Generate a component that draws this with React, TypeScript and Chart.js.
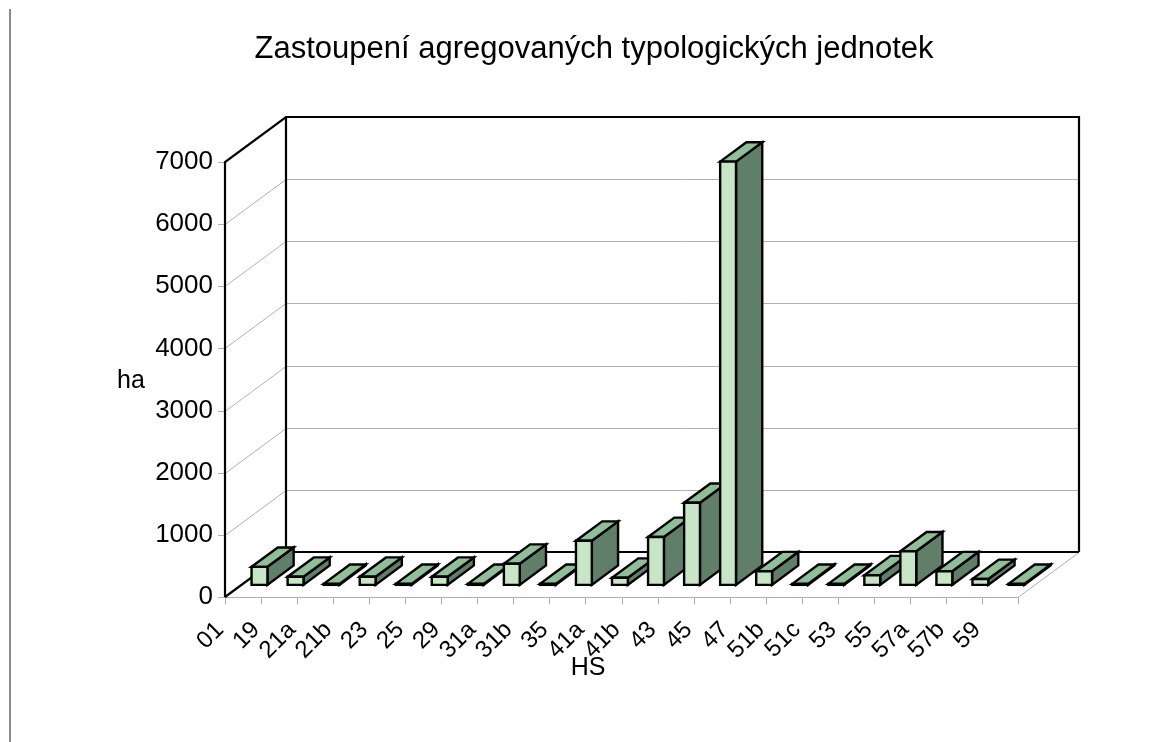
import { useEffect, useRef } from "react";
import { Chart, registerables } from "chart.js";

Chart.register(...registerables);

const chartTitle = "Zastoupení agregovaných typologických jednotek";
const xAxisTitle = "HS";
const yAxisTitle = "ha";
const categories = ["01", "19", "21a", "21b", "23", "25", "29", "31a", "31b", "35", "41a", "41b", "43", "45", "47", "51b", "51c", "53", "55", "57a", "57b", "59"];
const areaHa = [290, 130, 15, 130, 15, 130, 15, 340, 15, 710, 115, 770, 1320, 6810, 220, 10, 10, 155, 540, 220, 95, 15];
const yMin = 0;
const yMax = 7000;
const yStep = 1000;

const FONT = "'Liberation Sans', Arial, Helvetica, sans-serif";
const DX = 61;
const DY = -45;
const BAR_FRONT = 0.27;
const BAR_DEPTH = 0.43;
const FRONT_COLOR = "#c6e6c6";
const TOP_COLOR = "#8fbf99";
const SIDE_COLOR = "#5f7f69";
const GRID_COLOR = "#b0b0b0";

function line(ctx: CanvasRenderingContext2D, pts: number[][]) {
  ctx.beginPath();
  ctx.moveTo(pts[0][0], pts[0][1]);
  for (let i = 1; i < pts.length; i++) ctx.lineTo(pts[i][0], pts[i][1]);
  ctx.stroke();
}

function poly(ctx: CanvasRenderingContext2D, pts: number[][], fill: string) {
  ctx.beginPath();
  ctx.moveTo(pts[0][0], pts[0][1]);
  for (let i = 1; i < pts.length; i++) ctx.lineTo(pts[i][0], pts[i][1]);
  ctx.closePath();
  ctx.fillStyle = fill;
  ctx.fill();
  ctx.stroke();
}

const box3d = {
  id: "box3d",
  beforeDatasetsDraw(chart: any) {
    const { ctx, chartArea: a, scales } = chart;
    const xs = scales.x;
    const ys = scales.y;
    ctx.save();
    ctx.lineCap = "butt";
    ctx.strokeStyle = GRID_COLOR;
    ctx.lineWidth = 1;
    ys.ticks.forEach((t: any) => {
      const py = Math.round(ys.getPixelForValue(t.value)) + 0.5;
      if (t.value > yMin && t.value < yMax) {
        line(ctx, [[a.left, py], [a.left + DX, py + DY], [a.right + DX, py + DY]]);
      }
      line(ctx, [[a.left - 7, py], [a.left, py]]);
    });
    const fy = Math.round(ys.getPixelForValue(yMin)) + 0.5;
    line(ctx, [[a.left, fy], [a.right, fy], [a.right + DX, fy + DY]]);
    for (let i = 0; i <= categories.length; i++) {
      const px = Math.round(xs.getPixelForValue(i - 0.5)) + 0.5;
      line(ctx, [[px, fy], [px, fy + 7]]);
    }
    const ty = ys.getPixelForValue(yMax);
    const by = ys.getPixelForValue(yMin);
    ctx.strokeStyle = "#000";
    ctx.lineWidth = 2.2;
    line(ctx, [[a.left, by], [a.left, ty], [a.left + DX, ty + DY], [a.right + DX, ty + DY], [a.right + DX, by + DY]]);
    line(ctx, [[a.left + DX, ty + DY], [a.left + DX, by + DY]]);
    line(ctx, [[a.left, by], [a.left + DX, by + DY], [a.right + DX, by + DY]]);
    ctx.restore();
  },
  afterDatasetsDraw(chart: any) {
    const { ctx } = chart;
    const meta = chart.getDatasetMeta(0);
    const fx = DX * BAR_FRONT;
    const fyo = DY * BAR_FRONT;
    const bx = DX * BAR_DEPTH;
    const byo = DY * BAR_DEPTH;
    ctx.save();
    ctx.strokeStyle = "#000";
    ctx.lineWidth = 2.4;
    ctx.lineJoin = "miter";
    meta.data.forEach((el: any) => {
      const p = el.getProps(["x", "y", "base", "width"], true);
      const x0 = p.x - p.width / 2 + fx;
      const x1 = p.x + p.width / 2 + fx;
      const yt = Math.min(p.y, p.base - 1) + fyo;
      const yb = p.base + fyo;
      poly(ctx, [[x1, yt], [x1 + bx, yt + byo], [x1 + bx, yb + byo], [x1, yb]], SIDE_COLOR);
      poly(ctx, [[x0, yt], [x0 + bx, yt + byo], [x1 + bx, yt + byo], [x1, yt]], TOP_COLOR);
      poly(ctx, [[x0, yt], [x1, yt], [x1, yb], [x0, yb]], FRONT_COLOR);
    });
    ctx.restore();
  },
  afterDraw(chart: any) {
    const { ctx, chartArea: a } = chart;
    ctx.save();
    ctx.fillStyle = "#000";
    ctx.textAlign = "center";
    ctx.textBaseline = "middle";
    ctx.font = `31px ${FONT}`;
    ctx.fillText(chartTitle, 594, 49);
    ctx.font = `25px ${FONT}`;
    ctx.fillText(yAxisTitle, 131, (a.top + a.bottom) / 2 + 2);
    ctx.fillText(xAxisTitle, 588, 668);
    ctx.restore();
  },
};

export default function App() {
  const ref = useRef<HTMLCanvasElement | null>(null);
  useEffect(() => {
    if (!ref.current) return;
    const chart = new Chart(ref.current, {
      type: "bar",
      data: {
        labels: categories,
        datasets: [
          {
            label: yAxisTitle,
            data: areaHa,
            backgroundColor: "rgba(0,0,0,0)",
            borderWidth: 0,
            categoryPercentage: 1,
            barPercentage: 0.44,
          },
        ],
      },
      options: {
        responsive: false,
        animation: false,
        devicePixelRatio: 1,
        layout: { padding: { left: 0, right: 135, top: 162, bottom: 0 } },
        plugins: {
          legend: { display: false },
          tooltip: { enabled: false },
          title: { display: false },
        },
        scales: {
          x: {
            type: "category",
            offset: true,
            grid: { display: false, drawTicks: false },
            border: { display: false },
            ticks: {
              autoSkip: false,
              minRotation: 45,
              maxRotation: 45,
              labelOffset: -23,
              padding: 19,
              color: "#000",
              font: { family: FONT, size: 24 },
            },
            afterFit: (s: any) => {
              s.height = 145;
            },
          },
          y: {
            min: yMin,
            max: yMax,
            grid: { display: false, drawTicks: false },
            border: { display: false },
            ticks: {
              stepSize: yStep,
              padding: 12,
              color: "#000",
              font: { family: FONT, size: 26 },
              callback: (v: any) => String(v),
            },
            afterFit: (s: any) => {
              s.width = 225;
            },
          },
        },
      },
      plugins: [box3d],
    });
    return () => chart.destroy();
  }, []);

  return (
    <div style={{ position: "fixed", left: 0, top: 0, width: 1153, height: 742, background: "#fff" }}>
      <canvas ref={ref} width={1153} height={742} style={{ position: "absolute", left: 0, top: 0 }} />
      <div style={{ position: "absolute", left: 9, top: 9, width: 2, height: 733, background: "#8a8a8a" }} />
    </div>
  );
}
